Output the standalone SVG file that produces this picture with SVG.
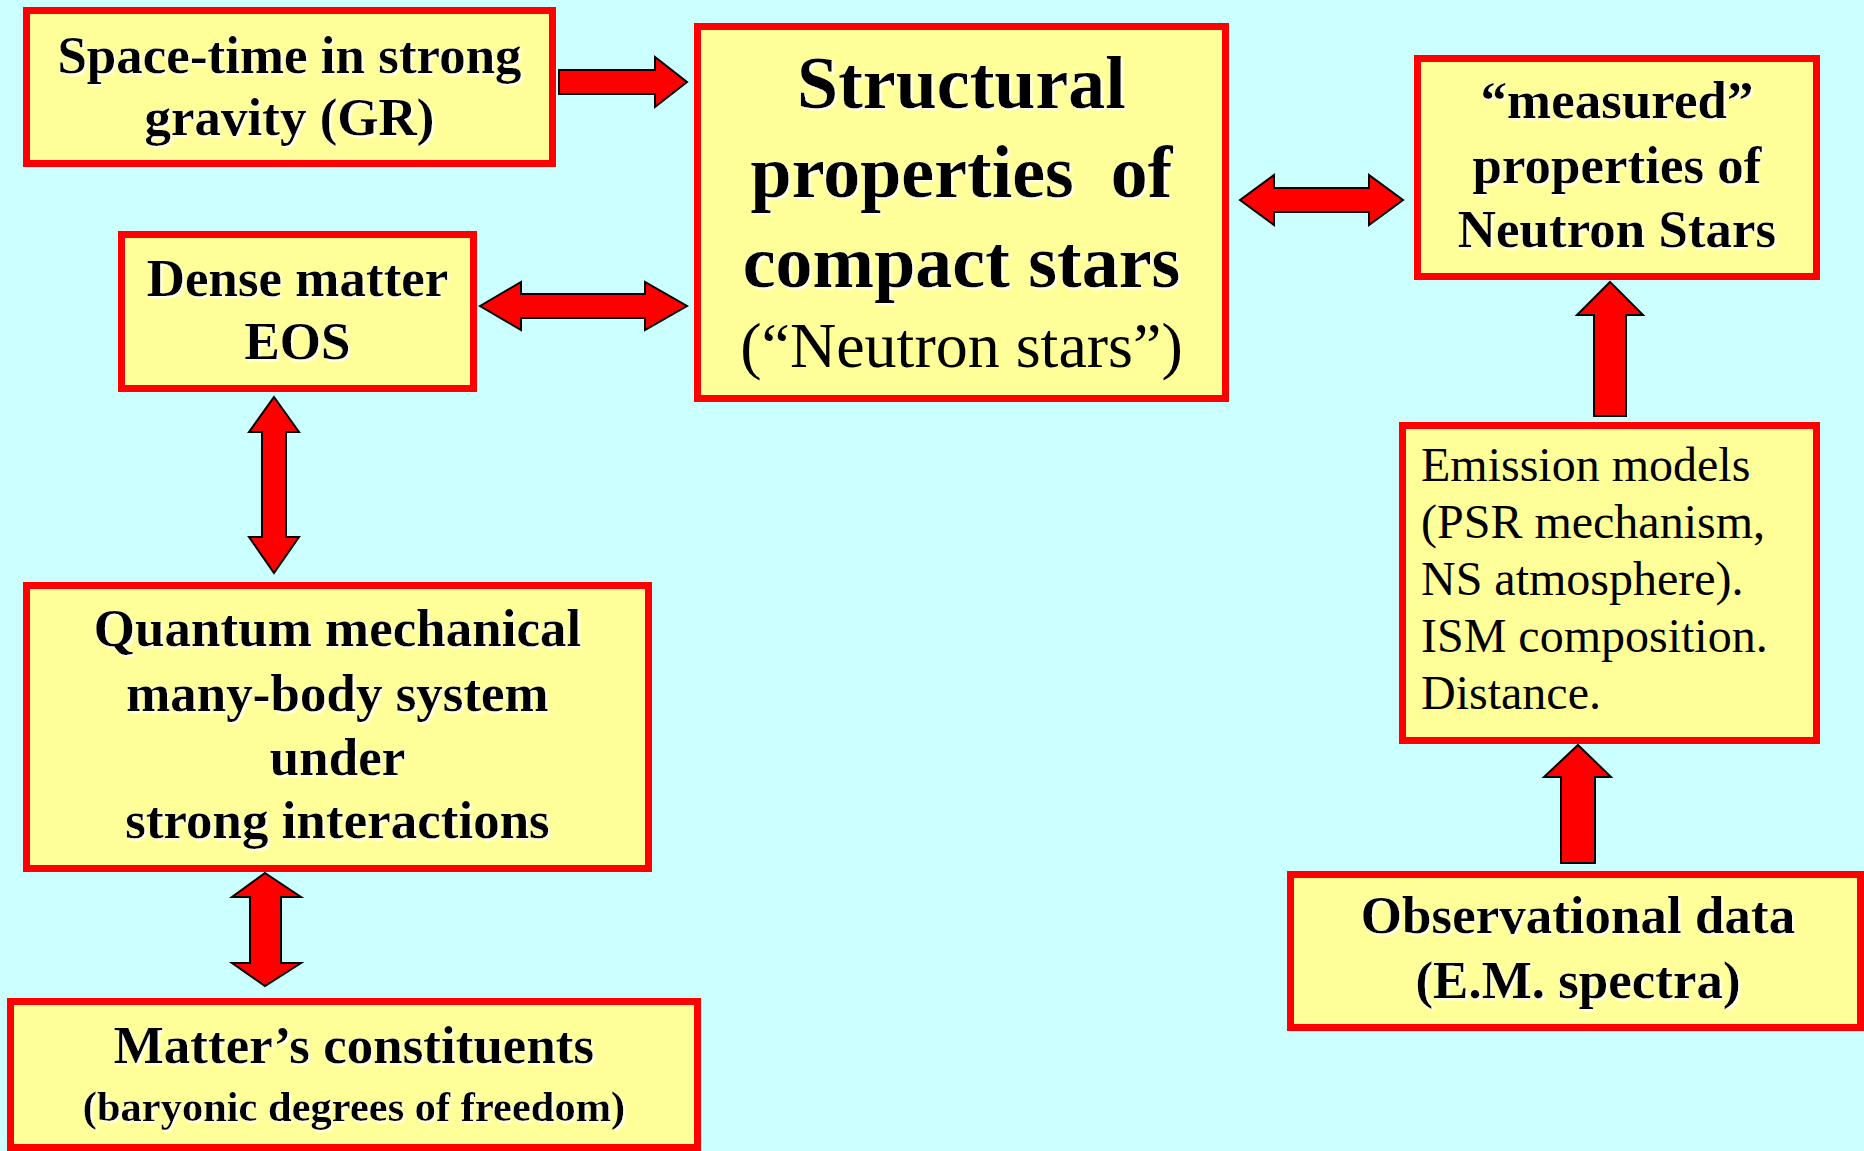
<svg xmlns="http://www.w3.org/2000/svg" width="1864" height="1151" viewBox="0 0 1864 1151">
  <defs>
    <filter id="tshadow" x="-5%" y="-10%" width="110%" height="130%">
      <feDropShadow dx="2" dy="2" stdDeviation="0.8" flood-color="#ffffff" flood-opacity="0.95"/>
    </filter>
  </defs>
  <style>
    .box { fill: #FFFF99; stroke: #FF0000; stroke-width: 7; }
    .arrow { fill: #FF0000; stroke: #000000; stroke-width: 2; stroke-linejoin: miter; }
    .b { font-family: "Liberation Serif", "Times New Roman", serif; font-weight: bold; fill: #000; text-anchor: middle; filter: url(#tshadow); }
    .r { font-family: "Liberation Serif", "Times New Roman", serif; font-weight: normal; fill: #000; }
  </style>
  <rect x="0" y="0" width="1864" height="1151" fill="#CCFFFF"/>

  <g id="connectors">
    <polygon class="arrow" points="559,70 655,70 655,57 687,82 655,107 655,94 559,94"/>
    <polygon class="arrow" points="480,306 521,282 521,294 645,294 645,282 687,306 645,330 645,318 521,318 521,330"/>
    <polygon class="arrow" points="1240,200 1274,175 1274,188 1369,188 1369,175 1403,200 1369,225 1369,212 1274,212 1274,225"/>
    <polygon class="arrow" points="1610,282 1643,315 1626,315 1626,416 1594,416 1594,315 1577,315"/>
    <polygon class="arrow" points="1578,745 1611,777 1595,777 1595,863 1561,863 1561,777 1544,777"/>
    <polygon class="arrow" points="274,397 299,432 286,432 286,537 299,537 274,573 249,537 262,537 262,432 249,432"/>
    <polygon class="arrow" points="265,873 301,897 281,897 281,963 301,963 265,986 232,963 250,963 250,897 232,897"/>
  </g>

  <g id="node-spacetime">
    <rect class="box" x="26.5" y="10.5" width="526" height="153"/>
    <text class="b" font-size="53" x="289.5" y="73">Space-time in strong</text>
    <text class="b" font-size="53" x="289.5" y="135">gravity (GR)</text>
  </g>

  <g id="node-structural">
    <rect class="box" x="697.5" y="26.5" width="528" height="372"/>
    <text class="b" font-size="74" x="961.5" y="108">Structural</text>
    <text class="b" font-size="74" x="961.5" y="197" xml:space="preserve">properties  of</text>
    <text class="b" font-size="74" x="961.5" y="287">compact stars</text>
    <text class="r" font-size="64" x="961.5" y="367" text-anchor="middle">(“Neutron stars”)</text>
  </g>

  <g id="node-dense">
    <rect class="box" x="121.5" y="234.5" width="352" height="154"/>
    <text class="b" font-size="53" x="297.5" y="296">Dense matter</text>
    <text class="b" font-size="53" x="297.5" y="359">EOS</text>
  </g>

  <g id="node-measured">
    <rect class="box" x="1417.5" y="58.5" width="399" height="218"/>
    <text class="b" font-size="53" x="1617" y="118">“measured”</text>
    <text class="b" font-size="53" x="1617" y="183">properties of</text>
    <text class="b" font-size="53" x="1617" y="247">Neutron Stars</text>
  </g>

  <g id="node-emission">
    <rect class="box" x="1402.5" y="425.5" width="414" height="315"/>
    <text class="r" font-size="48" x="1421" y="481">Emission models</text>
    <text class="r" font-size="48" x="1421" y="538">(PSR mechanism,</text>
    <text class="r" font-size="48" x="1421" y="595">NS atmosphere).</text>
    <text class="r" font-size="48" x="1421" y="652">ISM composition.</text>
    <text class="r" font-size="48" x="1421" y="709">Distance.</text>
  </g>

  <g id="node-observational">
    <rect class="box" x="1290.5" y="874.5" width="570" height="153"/>
    <text class="b" font-size="53" x="1578" y="933">Observational data</text>
    <text class="b" font-size="53" x="1578" y="998">(E.M. spectra)</text>
  </g>

  <g id="node-quantum">
    <rect class="box" x="26.5" y="585.5" width="622" height="283"/>
    <text class="b" font-size="53" x="337.5" y="646">Quantum mechanical</text>
    <text class="b" font-size="53" x="337.5" y="711">many-body system</text>
    <text class="b" font-size="53" x="337.5" y="775">under</text>
    <text class="b" font-size="53" x="337.5" y="838">strong interactions</text>
  </g>

  <g id="node-matter">
    <rect class="box" x="10.5" y="1001.5" width="687" height="146"/>
    <text class="b" font-size="53" x="354" y="1063">Matter’s constituents</text>
    <text class="b" font-size="42.5" x="354" y="1121">(baryonic degrees of freedom)</text>
  </g>
</svg>
